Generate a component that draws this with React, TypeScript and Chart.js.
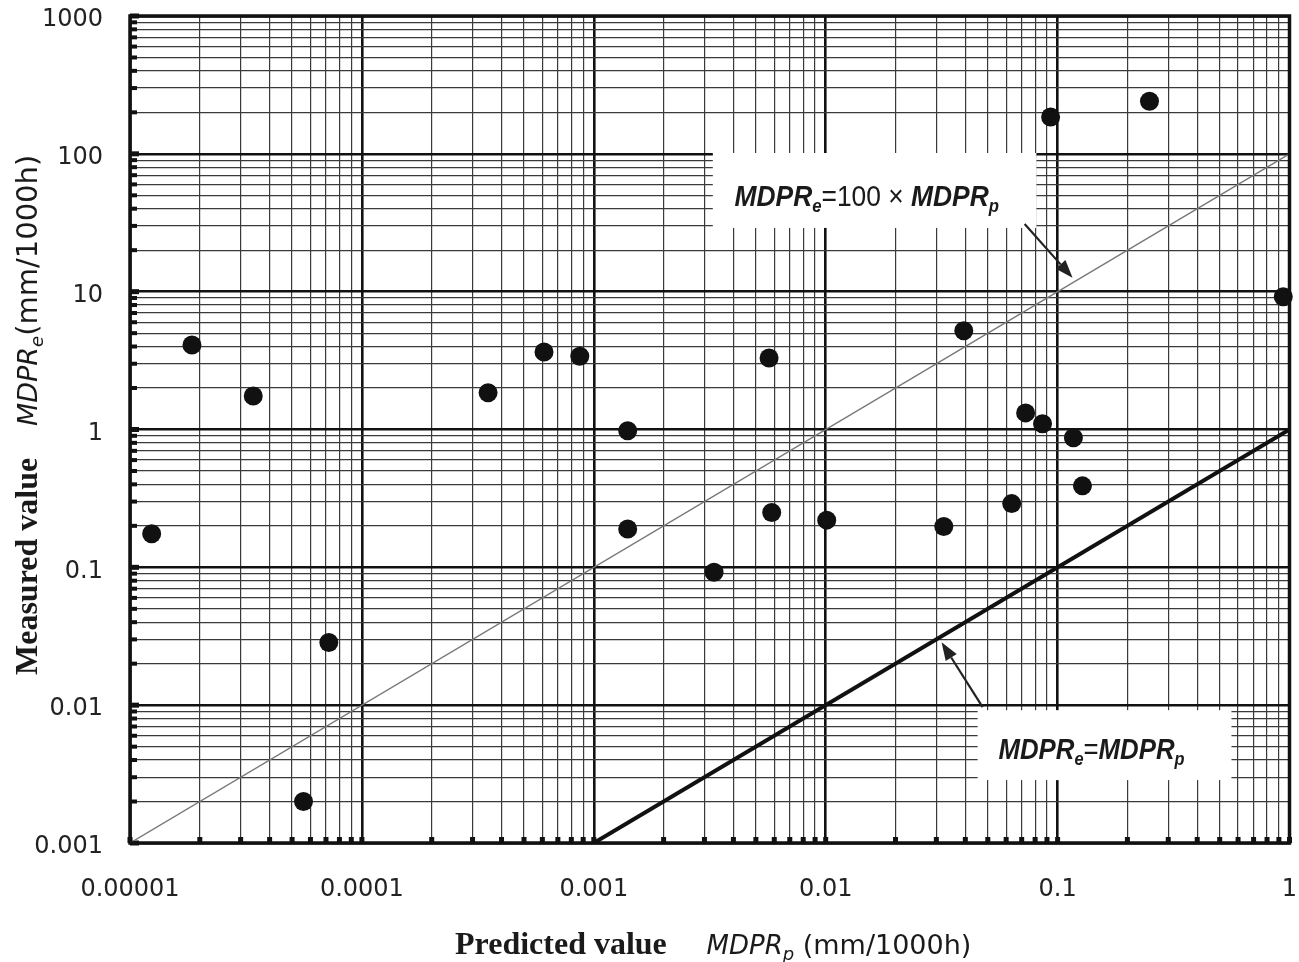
import React, { useEffect, useRef } from 'react';
import { Chart, registerables } from 'chart.js';

Chart.register(...registerables);

// ---------- data ----------
const X_TICKS = [0.00001, 0.0001, 0.001, 0.01, 0.1, 1];
const X_LABELS = ['0.00001', '0.0001', '0.001', '0.01', '0.1', '1'];
const Y_TICKS = [0.001, 0.01, 0.1, 1, 10, 100, 1000];
const Y_LABELS = ['0.001', '0.01', '0.1', '1', '10', '100', '1000'];
const MINOR_MULTS = [2, 3, 4, 5, 6, 7, 8, 9];

const predicted = [
  1.24e-5, 1.85e-5, 3.4e-5, 5.6e-5, 7.2e-5, 3.5e-4, 6.1e-4, 8.7e-4, 1.4e-3, 1.4e-3,
  3.3e-3, 5.7e-3, 5.85e-3, 0.0101, 0.0323, 0.0394, 0.0634, 0.0728, 0.0861, 0.0933,
  0.117, 0.128, 0.249, 0.94,
];
const measured = [
  0.175, 4.1, 1.75, 0.002, 0.0285, 1.85, 3.65, 3.4, 0.98, 0.19,
  0.092, 3.3, 0.25, 0.22, 0.198, 5.2, 0.29, 1.32, 1.1, 185,
  0.87, 0.39, 241, 9.2,
];

// reference lines: MDPRe = 100 x MDPRp and MDPRe = MDPRp
const LINE100_X = [0.00001, 1];
const LINE100_Y = [0.001, 100];
const LINE1_X = [0.001, 1];
const LINE1_Y = [0.001, 1];

// annotation boxes (data coords) and labels
const BOX1 = { x0: 0.00326, x1: 0.081, y0: 101.4, y1: 29 };
const BOX2 = { x0: 0.0452, x1: 0.562, y0: 0.0092, y1: 0.00286 };
const LABEL1_AT = { x: 0.01503, y: 50.2 };
const LABEL2_AT = { x: 0.14, y: 0.00488 };
const ARROW1 = { fx: 0.0721, fy: 31, tx: 0.116, ty: 12.6 };
const ARROW2 = { fx: 0.0475, fy: 0.00968, tx: 0.0316, ty: 0.0286 };

// target plot frame
const AREA = { left: 130, top: 16, right: 1291, bottom: 843 };

// ---------- helpers ----------
const buildTicks = (decades: number[]) => {
  const out: { value: number; major: boolean }[] = [];
  decades.forEach((d, i) => {
    out.push({ value: d, major: true });
    if (i < decades.length - 1) MINOR_MULTS.forEach((m) => out.push({ value: d * m, major: false }));
  });
  return out;
};
const isDecade = (v: number) => {
  const l = Math.log10(v);
  return Math.abs(l - Math.round(l)) < 1e-6;
};
const labelFor = (ticks: number[], labels: string[], v: number) => {
  const i = ticks.findIndex((t) => Math.abs(t - v) / t < 1e-6);
  return i >= 0 ? labels[i] : '';
};

type Seg = { t: string; font: string; dy?: number };
function drawRich(ctx: CanvasRenderingContext2D, segs: Seg[], x: number, y: number, center: boolean, sx = 1) {
  let w = 0;
  for (const s of segs) {
    ctx.font = s.font;
    w += ctx.measureText(s.t).width;
  }
  ctx.save();
  ctx.translate(x, y);
  ctx.scale(sx, 1);
  let cx = center ? -w / 2 : 0;
  ctx.textAlign = 'left';
  ctx.textBaseline = 'alphabetic';
  for (const s of segs) {
    ctx.font = s.font;
    ctx.fillText(s.t, cx, s.dy || 0);
    cx += ctx.measureText(s.t).width;
  }
  ctx.restore();
}

function arrow(ctx: CanvasRenderingContext2D, x0: number, y0: number, x1: number, y1: number) {
  const a = Math.atan2(y1 - y0, x1 - x0);
  const L = 18, W = 6.5;
  const bx = x1 - L * Math.cos(a), by = y1 - L * Math.sin(a);
  ctx.save();
  ctx.strokeStyle = '#222';
  ctx.fillStyle = '#222';
  ctx.lineWidth = 2.2;
  ctx.beginPath();
  ctx.moveTo(x0, y0);
  ctx.lineTo(bx, by);
  ctx.stroke();
  ctx.beginPath();
  ctx.moveTo(x1, y1);
  ctx.lineTo(bx + W * Math.sin(a), by - W * Math.cos(a));
  ctx.lineTo(bx - W * Math.sin(a), by + W * Math.cos(a));
  ctx.closePath();
  ctx.fill();
  ctx.restore();
}

const decorPlugin = {
  id: 'decor',
  beforeDatasetsDraw(chart: any) {
    const { ctx, chartArea: ca, scales } = chart;
    const xs = scales.x, ys = scales.y;
    ctx.save();
    // tick stubs
    ctx.fillStyle = '#111';
    ys.ticks.forEach((t: any) => {
      const py = ys.getPixelForValue(t.value);
      if (t.major) ctx.fillRect(ca.left, py - 2.5, 9, 5);
      else ctx.fillRect(ca.left, py - 2, 7, 4);
    });
    xs.ticks.forEach((t: any) => {
      const px = xs.getPixelForValue(t.value);
      ctx.fillRect(px - 2.5, ca.bottom - 6, 5, 6);
    });
    // white label boxes
    ctx.fillStyle = '#ffffff';
    [BOX1, BOX2].forEach((b) => {
      const x0 = xs.getPixelForValue(b.x0), x1 = xs.getPixelForValue(b.x1);
      const y0 = ys.getPixelForValue(b.y0), y1 = ys.getPixelForValue(b.y1);
      ctx.fillRect(x0, y0, x1 - x0, y1 - y0);
    });
    ctx.restore();
  },
  afterDatasetsDraw(chart: any) {
    const { ctx, scales } = chart;
    const xs = scales.x, ys = scales.y;
    ctx.save();
    ctx.fillStyle = '#1a1a1a';
    const big = 'italic bold 30px "Liberation Sans", Arial, sans-serif';
    const sub = 'italic bold 19px "Liberation Sans", Arial, sans-serif';
    const reg = '30px "Liberation Sans", Arial, sans-serif';
    drawRich(
      ctx,
      [
        { t: 'MDPR', font: big },
        { t: 'e', font: sub, dy: 6 },
        { t: '=', font: reg },
        { t: '100 × ', font: reg },
        { t: 'MDPR', font: big },
        { t: 'p', font: sub, dy: 6 },
      ],
      xs.getPixelForValue(LABEL1_AT.x),
      ys.getPixelForValue(LABEL1_AT.y) + 11,
      true,
      0.88
    );
    drawRich(
      ctx,
      [
        { t: 'MDPR', font: big },
        { t: 'e', font: sub, dy: 6 },
        { t: '=', font: reg },
        { t: 'MDPR', font: big },
        { t: 'p', font: sub, dy: 6 },
      ],
      xs.getPixelForValue(LABEL2_AT.x),
      ys.getPixelForValue(LABEL2_AT.y) + 11,
      true,
      0.86
    );
    [ARROW1, ARROW2].forEach((a) =>
      arrow(ctx, xs.getPixelForValue(a.fx), ys.getPixelForValue(a.fy), xs.getPixelForValue(a.tx), ys.getPixelForValue(a.ty))
    );
    ctx.restore();
  },
  afterDraw(chart: any) {
    const { ctx, chartArea: ca } = chart;
    ctx.save();
    // frame
    ctx.strokeStyle = '#111';
    ctx.lineWidth = 3.5;
    ctx.strokeRect(ca.left, ca.top, ca.right - ca.left, ca.bottom - ca.top);
    ctx.fillStyle = '#1a1a1a';
    // x title
    drawRich(
      ctx,
      [
        { t: 'Predicted value', font: 'bold 32px "Liberation Serif", "Times New Roman", serif' },
        { t: '\u00a0\u00a0\u00a0\u00a0\u00a0', font: '25px "DejaVu Sans", sans-serif' },
        { t: 'MDPR', font: 'italic 26px "DejaVu Sans", sans-serif' },
        { t: 'p', font: 'italic 18px "DejaVu Sans", sans-serif', dy: 6 },
        { t: ' (mm/1000h)', font: '27px "DejaVu Sans", sans-serif' },
      ],
      455,
      954,
      false
    );
    // y title (rotated)
    ctx.save();
    ctx.translate(39, 675);
    ctx.rotate(-Math.PI / 2);
    drawRich(
      ctx,
      [
        { t: 'Measured value', font: 'bold 32px "Liberation Serif", "Times New Roman", serif' },
        { t: '\u00a0\u00a0\u00a0\u00a0', font: '25px "DejaVu Sans", sans-serif' },
        { t: 'MDPR', font: 'italic 27px "DejaVu Sans", sans-serif' },
        { t: 'e', font: 'italic 18px "DejaVu Sans", sans-serif', dy: 6 },
        { t: '(mm/1000h)', font: '29px "DejaVu Sans", sans-serif' },
      ],
      0,
      -2,
      false
    );
    ctx.restore();
    ctx.restore();
  },
};

export default function App() {
  const ref = useRef<HTMLCanvasElement | null>(null);
  useEffect(() => {
    document.body.style.margin = '0';
    const canvas = ref.current;
    if (!canvas) return;
    const points = predicted.map((x, i) => ({ x, y: measured[i] }));
    const l100 = LINE100_X.map((x, i) => ({ x, y: LINE100_Y[i] }));
    const l1 = LINE1_X.map((x, i) => ({ x, y: LINE1_Y[i] }));
    const gridWidth = (c: any) => (c.tick && isDecade(c.tick.value) ? 2.6 : 1.2);
    const gridColor = (c: any) => (c.tick && isDecade(c.tick.value) ? '#111' : '#3a3a3a');
    const zeroPad = (s: any) => {
      s.paddingTop = 0;
      s.paddingBottom = 0;
      s.paddingLeft = 0;
      s.paddingRight = 0;
    };
    const chart = new Chart(canvas, {
      type: 'scatter',
      data: {
        datasets: [
          {
            label: 'MDPRe = 100 x MDPRp',
            data: l100,
            showLine: true,
            borderColor: '#777',
            borderWidth: 1.4,
            pointRadius: 0,
            order: 3,
          },
          {
            label: 'MDPRe = MDPRp',
            data: l1,
            showLine: true,
            borderColor: '#111',
            borderWidth: 4,
            pointRadius: 0,
            order: 2,
          },
          {
            label: 'data',
            data: points,
            showLine: false,
            backgroundColor: '#111',
            borderWidth: 0,
            pointRadius: 9.5,
            clip: 12,
            order: 1,
          } as any,
        ],
      },
      options: {
        responsive: false,
        animation: false,
        layout: { padding: { left: 0, right: 8, top: 16, bottom: 0 } },
        plugins: { legend: { display: false }, tooltip: { enabled: false } },
        scales: {
          x: {
            type: 'logarithmic',
            min: 0.00001,
            max: 1,
            afterBuildTicks: (s: any) => {
              s.ticks = buildTicks(X_TICKS);
            },
            afterFit: (s: any) => {
              s.height = 119;
              zeroPad(s);
            },
            ticks: {
              autoSkip: false,
              maxRotation: 0,
              padding: 32,
              color: '#222',
              font: { family: '"DejaVu Sans", sans-serif', size: 24 },
              callback: (v: any) => labelFor(X_TICKS, X_LABELS, Number(v)),
            },
            grid: { drawTicks: false, color: gridColor, lineWidth: gridWidth },
            border: { display: false },
          },
          y: {
            type: 'logarithmic',
            min: 0.001,
            max: 1000,
            afterBuildTicks: (s: any) => {
              s.ticks = buildTicks(Y_TICKS);
            },
            afterFit: (s: any) => {
              s.width = 130;
              zeroPad(s);
            },
            ticks: {
              autoSkip: false,
              padding: 27,
              labelOffset: 4,
              color: '#222',
              font: { family: '"DejaVu Sans", sans-serif', size: 24 },
              callback: (v: any) => labelFor(Y_TICKS, Y_LABELS, Number(v)),
            },
            grid: { drawTicks: false, color: gridColor, lineWidth: gridWidth },
            border: { display: false },
          },
        },
      },
      plugins: [decorPlugin],
    });
    // correct the layout so the plot frame lands on the target rectangle
    const ca = chart.chartArea;
    const pad: any = (chart.options.layout as any).padding;
    const next = {
      left: pad.left + (AREA.left - ca.left),
      top: pad.top + (AREA.top - ca.top),
      right: pad.right + (ca.right - AREA.right),
      bottom: pad.bottom + (ca.bottom - AREA.bottom),
    };
    if (next.left !== pad.left || next.top !== pad.top || next.right !== pad.right || next.bottom !== pad.bottom) {
      (chart.options.layout as any).padding = next;
      chart.update();
    }
    return () => chart.destroy();
  }, []);
  return <canvas ref={ref} width={1299} height={962} style={{ display: 'block' }} />;
}
